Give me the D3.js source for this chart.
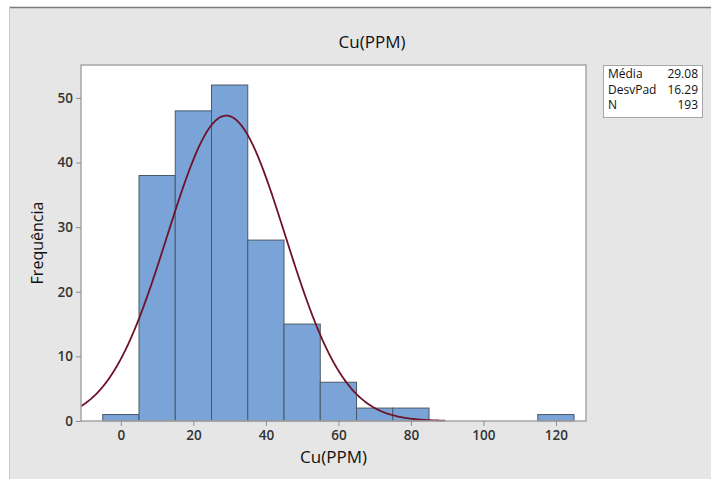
<!DOCTYPE html>
<html><head><meta charset="utf-8">
<script src="https://cdn.jsdelivr.net/npm/d3@7"></script>
<style>body{margin:0;background:#fff;}svg{display:block;}text{font-family:"Open Sans","Noto Sans",sans-serif;}</style>
</head><body>
<svg id="c" width="711" height="479"></svg>
<script>
const binStarts = [-5, 5, 15, 25, 35, 45, 55, 65, 75, 85, 95, 105, 115];
const counts    = [1, 38, 48, 52, 28, 15, 6, 2, 2, 0, 0, 0, 1];
const binWidth = 10;
const xTicks = [0, 20, 40, 60, 80, 100, 120];
const yTicks = [0, 10, 20, 30, 40, 50];
const statLabels = ["Média", "DesvPad", "N"];
const statValues = ["29.08", "16.29", "193"];
const mean = 29.08, sd = 16.29, n = 193;

const svg = d3.select("#c");
svg.append("rect").attr("x",9).attr("y",7).attr("width",702).attr("height",472).attr("fill","#e6e6e6");
svg.append("line").attr("x1",9).attr("x2",711).attr("y1",7.5).attr("y2",7.5).attr("stroke","#7a7a7a").attr("stroke-width",1.5);
svg.append("line").attr("x1",9.5).attr("x2",9.5).attr("y1",7).attr("y2",479).attr("stroke","#c8c8c8");

const L=81, R=586, T=65, B=421;
const x = d3.scaleLinear().domain([-11, 128.3]).range([L, R]);
const y = d3.scaleLinear().domain([0, 55.1]).range([B, T]);

svg.append("rect").attr("x",L).attr("y",T).attr("width",R-L).attr("height",B-T).attr("fill","#fff");

svg.append("g").selectAll("rect").data(binStarts.map((s,i)=>({s,c:counts[i]})).filter(d=>d.c>0))
  .join("rect")
  .attr("x",d=>x(d.s)).attr("width",d=>x(d.s+binWidth)-x(d.s))
  .attr("y",d=>y(d.c)).attr("height",d=>y(0)-y(d.c))
  .attr("fill","#7aa4d8").attr("stroke","#4a5968").attr("stroke-width",1);

const curveX = d3.range(-11, 89.6, 0.25);
const pdf = v => n*binWidth/(sd*Math.sqrt(2*Math.PI))*Math.exp(-0.5*((v-mean)/sd)**2);
svg.append("path").datum(curveX)
  .attr("d", d3.line().x(v=>x(v)).y(v=>y(pdf(v))))
  .attr("fill","none").attr("stroke","#6e1328").attr("stroke-width",1.8);

svg.append("rect").attr("x",L).attr("y",T).attr("width",R-L).attr("height",B-T)
  .attr("fill","none").attr("stroke","#a6a6a6").attr("stroke-width",1.5);

const xa = svg.append("g").attr("transform",`translate(0,${B})`)
  .call(d3.axisBottom(x).tickValues(xTicks).tickSize(5).tickPadding(4));
const ya = svg.append("g").attr("transform",`translate(${L},0)`)
  .call(d3.axisLeft(y).tickValues(yTicks).tickSize(5).tickPadding(3));
[xa,ya].forEach(a=>{
  a.select(".domain").remove();
  a.selectAll(".tick line").attr("stroke","#8c8c8c");
  a.selectAll("text").attr("fill","#333").attr("font-size",13.5).attr("font-weight",600).style("font-family","'Open Sans','Noto Sans',sans-serif");
});

svg.append("text").attr("x",372).attr("y",48).attr("text-anchor","middle")
  .attr("font-size",17).attr("font-weight",500).attr("fill","#111").text("Cu(PPM)");
svg.append("text").attr("x",(L+R)/2).attr("y",463).attr("text-anchor","middle")
  .attr("font-size",17).attr("font-weight",500).attr("fill","#111").text("Cu(PPM)");
svg.append("text").attr("transform",`translate(43,${(T+B)/2}) rotate(-90)`).attr("text-anchor","middle")
  .attr("font-size",16).attr("font-weight",500).attr("fill","#111").text("Frequência");

svg.append("rect").attr("x",603.5).attr("y",65.5).attr("width",99).attr("height",52)
  .attr("fill","#fff").attr("stroke","#a6a6a6");
statLabels.forEach((s,i)=>{
  svg.append("text").attr("x",608).attr("y",78+i*15.5).attr("font-size",12).attr("fill","#111").text(s);
  svg.append("text").attr("x",698).attr("y",78+i*15.5).attr("font-size",12).attr("fill","#111").attr("text-anchor","end").text(statValues[i]);
});
</script>
</body></html>
